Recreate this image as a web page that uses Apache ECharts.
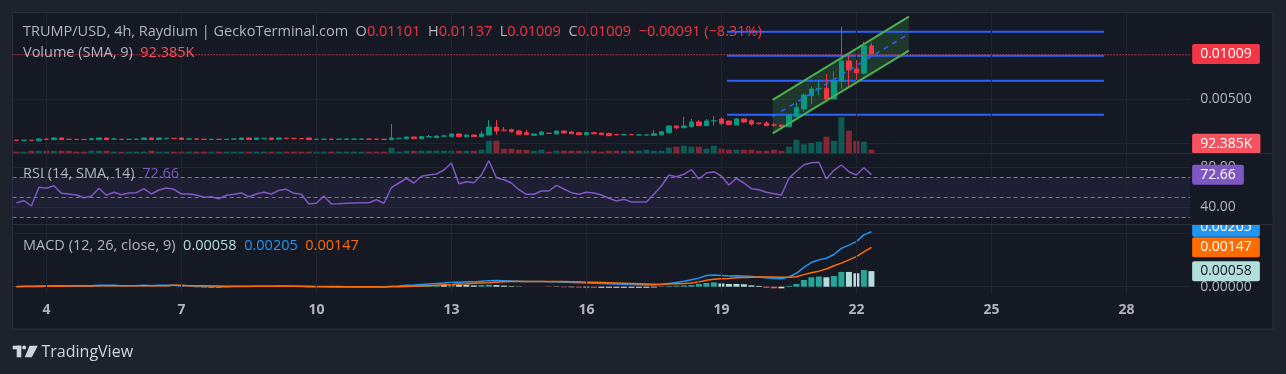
<!DOCTYPE html>
<html><head><meta charset="utf-8">
<script src="https://cdn.jsdelivr.net/npm/echarts@6/dist/echarts.min.js"></script>
<style>html,body{margin:0;padding:0;background:#1e222d;}#c{width:1286px;height:374px;}</style>
</head><body><div id="c"></div><script>
// ---------- data ----------
const TICK_DAYS = ['4','7','10','13','16','19','22','25','28'];
const START_DAY = 3, START_HOUR = 8, N_SLOTS = 157; // 4h bars, chart leaves empty space on the right

const OPEN = [0.00035,0.00032,0.00034,0.00028,0.00046,0.00040,0.00059,0.00045,0.00044,0.00043,
0.00040,0.00041,0.00059,0.00046,0.00045,0.00043,0.00044,0.00042,0.00059,0.00042,
0.00053,0.00055,0.00059,0.00046,0.00048,0.00045,0.00043,0.00045,0.00043,0.00046,
0.00042,0.00059,0.00042,0.00053,0.00059,0.00044,0.00056,0.00055,0.00052,0.00059,
0.00043,0.00044,0.00046,0.00044,0.00045,0.00045,0.00045,0.00047,0.00046,0.00045,
0.00040,0.00054,0.00051,0.00070,0.00051,0.00072,0.00062,0.00079,0.00074,0.00104,
0.00074,0.00093,0.00074,0.00093,0.00183,0.00147,0.00153,0.00138,0.00119,0.00089,
0.00096,0.00113,0.00104,0.00138,0.00127,0.00119,0.00096,0.00119,0.00115,0.00111,
0.00097,0.00095,0.00097,0.00092,0.00092,0.00089,0.00096,0.00119,0.00195,0.00175,
0.00187,0.00240,0.00198,0.00253,0.00274,0.00251,0.00206,0.00274,0.00254,0.00227,
0.00228,0.00207,0.00206,0.00187,0.00300,0.00387,0.00537,0.00617,0.00621,0.00500,
0.00703,0.00930,0.00839,0.00791,0.01101];
const CLOSE = [0.00032,0.00034,0.00031,0.00048,0.00042,0.00059,0.00040,0.00043,0.00042,0.00041,
0.00051,0.00059,0.00041,0.00048,0.00043,0.00045,0.00046,0.00059,0.00042,0.00059,
0.00055,0.00053,0.00042,0.00048,0.00046,0.00043,0.00045,0.00043,0.00045,0.00048,
0.00059,0.00042,0.00059,0.00055,0.00042,0.00059,0.00054,0.00053,0.00050,0.00042,
0.00045,0.00046,0.00044,0.00046,0.00047,0.00047,0.00047,0.00045,0.00044,0.00043,
0.00059,0.00056,0.00070,0.00051,0.00074,0.00074,0.00081,0.00081,0.00104,0.00074,
0.00093,0.00074,0.00104,0.00183,0.00138,0.00145,0.00130,0.00101,0.00096,0.00104,
0.00127,0.00111,0.00138,0.00115,0.00107,0.00096,0.00119,0.00107,0.00096,0.00085,
0.00095,0.00097,0.00095,0.00094,0.00094,0.00107,0.00130,0.00195,0.00175,0.00195,
0.00240,0.00198,0.00251,0.00255,0.00225,0.00209,0.00274,0.00240,0.00217,0.00225,
0.00198,0.00205,0.00187,0.00319,0.00402,0.00545,0.00613,0.00621,0.00500,0.00703,
0.00930,0.00828,0.00797,0.01100,0.01009];
const LOW = [0.00030,0.00031,0.00029,0.00027,0.00040,0.00038,0.00038,0.00041,0.00040,0.00040,
0.00039,0.00040,0.00040,0.00045,0.00042,0.00042,0.00043,0.00041,0.00041,0.00041,
0.00052,0.00052,0.00041,0.00045,0.00045,0.00042,0.00042,0.00042,0.00042,0.00045,
0.00041,0.00041,0.00041,0.00052,0.00041,0.00043,0.00053,0.00052,0.00049,0.00041,
0.00042,0.00043,0.00043,0.00043,0.00044,0.00044,0.00044,0.00044,0.00043,0.00042,
0.00039,0.00053,0.00050,0.00050,0.00050,0.00071,0.00061,0.00078,0.00073,0.00073,
0.00073,0.00073,0.00073,0.00092,0.00096,0.00144,0.00119,0.00099,0.00095,0.00085,
0.00095,0.00110,0.00103,0.00114,0.00106,0.00095,0.00095,0.00106,0.00095,0.00084,
0.00094,0.00094,0.00094,0.00091,0.00091,0.00088,0.00095,0.00118,0.00157,0.00174,
0.00186,0.00196,0.00197,0.00198,0.00206,0.00207,0.00205,0.00228,0.00198,0.00209,
0.00196,0.00187,0.00185,0.00185,0.00298,0.00356,0.00443,0.00545,0.00495,0.00495,
0.00613,0.00639,0.00715,0.00780,0.01009];
const HIGH = [0.00036,0.00036,0.00035,0.00059,0.00055,0.00070,0.00061,0.00046,0.00045,0.00044,
0.00059,0.00060,0.00060,0.00059,0.00046,0.00046,0.00047,0.00060,0.00060,0.00060,
0.00056,0.00056,0.00060,0.00059,0.00055,0.00046,0.00046,0.00046,0.00046,0.00049,
0.00060,0.00060,0.00060,0.00056,0.00060,0.00060,0.00057,0.00056,0.00053,0.00060,
0.00046,0.00047,0.00047,0.00047,0.00048,0.00048,0.00048,0.00048,0.00047,0.00046,
0.00217,0.00058,0.00071,0.00071,0.00081,0.00093,0.00083,0.00096,0.00106,0.00106,
0.00095,0.00095,0.00138,0.00262,0.00262,0.00183,0.00164,0.00153,0.00153,0.00106,
0.00138,0.00115,0.00140,0.00140,0.00138,0.00121,0.00121,0.00130,0.00117,0.00119,
0.00107,0.00107,0.00107,0.00095,0.00095,0.00149,0.00138,0.00197,0.00197,0.00300,
0.00274,0.00262,0.00274,0.00308,0.00293,0.00253,0.00285,0.00282,0.00270,0.00229,
0.00248,0.00225,0.00208,0.00330,0.00458,0.00564,0.00639,0.00703,0.00783,0.00816,
0.01318,0.00998,0.00941,0.01148,0.01137];
const VOLUME = [36400,34800,64400,61200,66800,63000,64400,60500,36400,35100,
64400,62800,64400,36400,33900,36400,35200,37800,64400,36400,
36400,34500,37600,36400,35800,36400,34200,36400,35000,36400,
37200,36400,35600,36400,36400,34900,36400,36400,35300,36400,
36400,35800,36400,37100,36400,36400,34600,36400,36400,35500,
148400,36400,64400,62100,64400,66300,64400,63200,64400,62700,
64400,61800,92400,344400,344400,120400,118300,92400,90600,64400,
92400,36400,64400,63500,64400,62200,64400,63800,36400,64400,
64400,62900,64400,63100,92400,64400,64400,148400,176400,204400,
176400,176400,120400,204400,120400,92400,92400,92400,92400,64400,
64400,92400,64400,176400,372400,243600,280000,316400,456400,344400,
999600,624400,344400,316400,92385];
const RSI = [44.6,46.6,41.3,60,59,61.6,54,53.3,52.3,49.6,
51,59,52,55,52.6,54.3,54.6,58.6,53.3,57.3,
59.3,58,53.3,53.3,52.3,50,50.6,48.6,52,53,
54.3,50.6,53.3,55,53.3,57,58,54,53,43.3,
44,51.3,43.3,43.6,44,44.3,44.6,44.6,47.6,44,
59.6,64.3,69,64.3,71,72.3,73.3,77.3,84.3,63.6,
65.6,64.6,72.3,86.6,69.6,67.6,64.3,57.6,53,53,
56.3,56.3,62,58.3,54.6,53,55,54.3,52.3,49,
46.3,48,45.3,45.3,45.3,53,61.3,72.3,70.6,73,
77.6,68.3,74.3,75.6,71.3,62.3,69,64.3,58.6,57.6,
55,53.6,52.3,69,76,82.6,84.6,85,68.3,77,
82.3,75.6,72.3,79.6,72.66];
const RSI_LEVELS = [70, 50, 30];
const MACD = [0.00001,0.00002,0.00002,0.00003,0.00003,0.00004,0.00004,0.00004,0.00004,0.00004,
0.00004,0.00005,0.00005,0.00005,0.00004,0.00004,0.00004,0.00005,0.00004,0.00005,
0.00005,0.00005,0.00004,0.00004,0.00002,0.00001,0.00001,0,0,0.00001,
0.00001,0.00001,0.00002,0.00002,0.00002,0.00003,0.00003,0.00002,0.00001,0,
0,0,-0.00001,-0.00001,-0.00001,-0.00001,-0.00001,-0.00001,-0.00001,-0.00001,
0.00002,0.00003,0.00005,0.00006,0.00008,0.00010,0.00012,0.00014,0.00017,0.00017,
0.00018,0.00018,0.00020,0.00022,0.00023,0.00022,0.00021,0.00020,0.00019,0.00019,
0.00019,0.00018,0.00018,0.00017,0.00016,0.00015,0.00014,0.00013,0.00012,0.00011,
0.00010,0.00009,0.00008,0.00007,0.00006,0.00006,0.00008,0.00012,0.00016,0.00020,
0.00026,0.00032,0.00042,0.00044,0.00042,0.00040,0.00041,0.00040,0.00038,0.00036,
0.00033,0.00031,0.00030,0.00036,0.00050,0.00072,0.00090,0.00100,0.00106,0.00120,
0.00143,0.00155,0.00168,0.00193,0.00205];
const SIGNAL = [0,0.00001,0.00001,0.00001,0.00002,0.00002,0.00002,0.00003,0.00003,0.00003,
0.00003,0.00004,0.00004,0.00004,0.00004,0.00004,0.00004,0.00004,0.00004,0.00004,
0.00004,0.00005,0.00005,0.00004,0.00004,0.00004,0.00003,0.00003,0.00002,0.00002,
0.00002,0.00002,0.00002,0.00002,0.00002,0.00002,0.00002,0.00002,0.00002,0.00002,
0.00001,0.00001,0.00001,0.00001,0,0,0,0,0,-0.00001,
0,0,0.00001,0.00002,0.00003,0.00004,0.00005,0.00007,0.00008,0.00010,
0.00011,0.00013,0.00014,0.00015,0.00017,0.00018,0.00019,0.00019,0.00019,0.00019,
0.00019,0.00019,0.00019,0.00019,0.00018,0.00018,0.00017,0.00017,0.00016,0.00015,
0.00014,0.00013,0.00012,0.00011,0.00010,0.00009,0.00009,0.00010,0.00011,0.00012,
0.00014,0.00018,0.00024,0.00028,0.00030,0.00031,0.00033,0.00034,0.00035,0.00036,
0.00036,0.00036,0.00035,0.00035,0.00037,0.00045,0.00052,0.00058,0.00066,0.00078,
0.00088,0.00100,0.00112,0.00130,0.00147];
const HIST = [0.00001,0.00001,0.00001,0.00002,0.00001,0.00002,0.00002,0.00001,0.00001,0.00001,
0.00001,0.00001,0.00001,0.00001,0,0,0,0.00001,0,0.00001,
0.00001,0,-0.00001,0,-0.00002,-0.00003,-0.00003,-0.00003,-0.00002,-0.00001,
-0.00001,-0.00001,0,0,0,0.00001,0.00001,0,-0.00001,-0.00002,
-0.00001,-0.00001,-0.00002,-0.00002,-0.00001,-0.00001,-0.00001,-0.00001,-0.00001,0,
0.00002,0.00003,0.00004,0.00004,0.00005,0.00006,0.00007,0.00007,0.00009,0.00007,
0.00007,0.00005,0.00006,0.00007,0.00006,0.00004,0.00002,0.00001,0,0,
0,-0.00001,-0.00001,-0.00002,-0.00002,-0.00003,-0.00003,-0.00004,-0.00004,-0.00004,
-0.00004,-0.00004,-0.00004,-0.00004,-0.00004,-0.00003,-0.00001,0.00003,0.00004,0.00005,
0.00006,0.00010,0.00014,0.00016,0.00012,0.00010,0.00010,0.00009,0.00005,0.00003,
-0.00004,-0.00006,-0.00006,0.00003,0.00010,0.00025,0.00035,0.00038,0.00035,0.00040,
0.00055,0.00055,0.00050,0.00062,0.00058];
// drawings (bar index, price)
const HLINES = [0.01261, 0.00990, 0.00707, 0.00322];
const HLINE_RANGE = [94.75, 145];
const CHANNEL_UPPER = [[100.84, 0.00489], [119.0, 0.01431]];
const CHANNEL_LOWER = [[100.84, 0.00112], [119.0, 0.01046]];
const CHANNEL_MID   = [[100.84, 0.00300], [119.0, 0.01238]];
const VOLUME_LAST_LABEL = '92.385K';
const HEADER_CHANGE = '\u22120.00091 (\u22128.31%)';

// ---------- build ----------
const cats = [];
for (let k = 0; k < N_SLOTS; k++) {
  const t = START_HOUR + 4 * k;
  cats.push((START_DAY + Math.floor(t / 24)) + ' ' + String(t % 24).padStart(2, '0') + ':00');
}
const TICK_CATS = TICK_DAYS.map(d => d + ' 00:00');
const n = CLOSE.length, last = n - 1;

const GREEN = '#089981', RED = '#f23645', GRIDC = '#20242f', TXT = '#b2b5be', CLEAR = 'rgba(0,0,0,0)';
const FONT = '"Open Sans", Roboto, sans-serif';
const L = 12.65, W = 1177.5;
const LEG = 14.5;

const boxLabel = (bg, fg, text, off) => ({
  show: true, position: 'end', distance: 2, formatter: text,
  backgroundColor: bg, color: fg, fontSize: 14, fontFamily: FONT, lineHeight: 14,
  padding: [3, 8, 3, 8], borderRadius: 2, offset: off || [0, 0]
});
const vGrid = (xi, yi) => ({
  type: 'line', xAxisIndex: xi, yAxisIndex: yi, data: [], z: 1, silent: true,
  markLine: { silent: true, symbol: ['none', 'none'], label: { show: false }, precision: 6,
    lineStyle: { color: GRIDC, width: 1, type: 'solid' },
    data: TICK_CATS.map(c => ({ xAxis: c })) }
});
const catAxis = (gi, showLabels) => ({
  type: 'category', gridIndex: gi, data: cats, boundaryGap: true,
  axisLine: { show: false }, axisTick: { show: false }, splitLine: { show: false },
  axisLabel: showLabels ? {
    show: true, interval: (i, v) => TICK_CATS.includes(v), formatter: v => v.split(' ')[0],
    color: TXT, fontSize: 14, fontWeight: 'bold', fontFamily: FONT, margin: 9
  } : { show: false }
});
const valAxisY = (gi, min, max, grid, labels, fmt) => ({
  type: 'value', gridIndex: gi, position: 'right', min: min, max: max, scale: true,
  axisLine: { show: false },
  axisTick: { show: false, customValues: grid },
  axisLabel: { customValues: labels, formatter: fmt, color: TXT, fontSize: 14, fontFamily: FONT, margin: 10 },
  splitLine: { show: true, lineStyle: { color: GRIDC, width: 1 } }
});
const valueTag = (value, bg, fg, text, off) => ({
  silent: true, symbol: ['none', 'none'], z: 20, precision: 8, lineStyle: { color: CLEAR },
  data: [{ yAxis: value, lineStyle: { color: CLEAR }, label: boxLabel(bg, fg, text, off) }]
});

const histColors = HIST.map((h, i) => {
  const p = i > 0 ? HIST[i - 1] : 0;
  return h >= 0 ? (h > p ? '#26a69a' : '#b2dfdb') : (h < p ? '#ff5252' : '#ffcdd2');
});
const rb = fill => ({ fill: fill, fontSize: LEG, fontFamily: FONT });
const legend = (y, text, rich) => ({ type: 'text', z: 60, x: 23, y: y, silent: true,
  style: { text: text, verticalAlign: 'middle', font: LEG + 'px ' + FONT, rich: rich } });

const chart = echarts.init(document.getElementById('c'), null, { renderer: 'canvas' });
const option = {
  animation: false,
  backgroundColor: '#1e222d',
  textStyle: { fontFamily: FONT },
  grid: [
    { left: L, width: W, top: 13, height: 140, outerBoundsMode: 'none' },
    { left: L, width: W, top: 154, height: 70, outerBoundsMode: 'none' },
    { left: L, width: W, top: 225, height: 69, outerBoundsMode: 'none' }
  ],
  xAxis: [
    catAxis(0, false),
    { type: 'value', gridIndex: 0, min: -0.5, max: N_SLOTS - 0.5, show: false },
    catAxis(1, false),
    catAxis(2, true)
  ],
  yAxis: [
    valAxisY(0, -0.001108, 0.014726, [0, 0.005, 0.01], [0.005], v => v.toFixed(5)),
    { type: 'value', gridIndex: 0, min: 0, max: 3920000, show: false, splitLine: { show: false } },
    valAxisY(1, 23.3, 93.3, [40, 80], [40, 80], v => v.toFixed(2)),
    valAxisY(2, -0.000272, 0.0023, [0, 0.002], [0], v => v.toFixed(5))
  ],
  graphic: { elements: [
    { type: 'rect', z: -10, silent: true, shape: { x: 12.5, y: 12.5, width: 1260.5, height: 316.5 },
      style: { fill: '#151924', stroke: '#2a2e39', lineWidth: 1 } },
    // price-scale strip of the RSI pane hides the top of the MACD tag that overflows its pane
    { type: 'rect', z: 55, silent: true, shape: { x: 1190.5, y: 215, width: 82, height: 9.5 }, style: { fill: '#151924' } },
    { type: 'line', z: 56, silent: true, shape: { x1: 12.5, y1: 153.5, x2: 1273, y2: 153.5 }, style: { stroke: '#2a2e39', lineWidth: 1 } },
    { type: 'line', z: 56, silent: true, shape: { x1: 12.5, y1: 224.5, x2: 1273, y2: 224.5 }, style: { stroke: '#2a2e39', lineWidth: 1 } },
    legend(32, '{g|TRUMP/USD, 4h, Raydium | GeckoTerminal.com}  {g|O}{r|' + OPEN[last].toFixed(5) + '}  {g|H}{r|' + HIGH[last].toFixed(5) +
        '}  {g|L}{r|' + LOW[last].toFixed(5) + '}  {g|C}{r|' + CLOSE[last].toFixed(5) + '}  {r|' + HEADER_CHANGE + '}',
      { g: rb(TXT), r: rb(RED) }),
    legend(53, '{g|Volume (SMA, 9)}  {r|' + VOLUME_LAST_LABEL + '}', { g: rb(TXT), r: rb('#f7525f') }),
    legend(174, '{g|RSI (14, SMA, 14)}  {p|' + RSI[last].toFixed(2) + '}', { g: rb(TXT), p: rb('#7e57c2') }),
    legend(246, '{g|MACD (12, 26, close, 9)}  {h|' + HIST[last].toFixed(5) + '}  {m|' + MACD[last].toFixed(5) + '}  {s|' + SIGNAL[last].toFixed(5) + '}',
      { g: rb(TXT), h: rb('#b2dfdb'), m: rb('#2196f3'), s: rb('#ff6d00') }),
    // TradingView logo
    { type: 'rect', silent: true, shape: { x: 12.7, y: 345.7, width: 8.6, height: 3.6 }, style: { fill: '#d1d4dc' } },
    { type: 'rect', silent: true, shape: { x: 16.7, y: 345.7, width: 4.6, height: 11.6 }, style: { fill: '#d1d4dc' } },
    { type: 'circle', silent: true, shape: { cx: 24.2, cy: 347.6, r: 2 }, style: { fill: '#d1d4dc' } },
    { type: 'polygon', silent: true, shape: { points: [[29.5, 345.7], [37.8, 345.7], [31.8, 357.3], [24.8, 357.3]] }, style: { fill: '#d1d4dc' } },
    { type: 'text', x: 41.5, y: 352.5, silent: true, style: { text: 'TradingView', fill: '#d1d4dc', font: '16px ' + FONT, verticalAlign: 'middle' } }
  ] },
  series: [
    vGrid(0, 0), vGrid(2, 2), vGrid(3, 3),
    { type: 'bar', name: 'Volume', xAxisIndex: 0, yAxisIndex: 1, barWidth: 6, z: 2, silent: true,
      data: VOLUME.map((v, i) => ({ value: v, itemStyle: { color: CLOSE[i] >= OPEN[i] ? 'rgba(8,153,129,0.5)' : 'rgba(242,54,69,0.5)' } })),
      markLine: valueTag(VOLUME[last], '#f7525f', '#ffffff', VOLUME_LAST_LABEL, [0, -6]) },
    { type: 'candlestick', name: 'TRUMP/USD', xAxisIndex: 0, yAxisIndex: 0, barWidth: 5, z: 5, silent: true,
      data: OPEN.map((o, i) => [o, CLOSE[i], LOW[i], HIGH[i]]),
      itemStyle: { color: GREEN, color0: RED, borderColor: GREEN, borderColor0: RED, borderWidth: 1 },
      markLine: { silent: true, symbol: ['none', 'none'], z: 6, precision: 8,
        lineStyle: { color: RED, type: [1, 2], width: 1 },
        data: [{ yAxis: CLOSE[last], label: boxLabel(RED, '#ffffff', CLOSE[last].toFixed(5)) }] } },
    { type: 'custom', xAxisIndex: 1, yAxisIndex: 0, z: 3, silent: true, data: [[0, 0]],
      renderItem: (params, api) => ({
        type: 'polygon',
        shape: { points: [api.coord(CHANNEL_UPPER[0]), api.coord(CHANNEL_UPPER[1]), api.coord(CHANNEL_LOWER[1]), api.coord(CHANNEL_LOWER[0])] },
        style: { fill: 'rgba(76,175,80,0.2)' }
      }) },
    ...HLINES.map(p => ({ type: 'line', xAxisIndex: 1, yAxisIndex: 0, z: 4, silent: true, symbol: 'none',
      data: [[HLINE_RANGE[0], p], [HLINE_RANGE[1], p]], lineStyle: { color: '#2962ff', width: 2 } })),
    { type: 'line', xAxisIndex: 1, yAxisIndex: 0, z: 6, silent: true, symbol: 'none', data: CHANNEL_UPPER, lineStyle: { color: '#4caf50', width: 2 } },
    { type: 'line', xAxisIndex: 1, yAxisIndex: 0, z: 6, silent: true, symbol: 'none', data: CHANNEL_LOWER, lineStyle: { color: '#4caf50', width: 2 } },
    { type: 'line', xAxisIndex: 1, yAxisIndex: 0, z: 6, silent: true, symbol: 'none', data: CHANNEL_MID, lineStyle: { color: '#2962ff', width: 1.5, type: [5, 5] } },
    { type: 'line', name: 'RSI', xAxisIndex: 2, yAxisIndex: 2, z: 5, silent: true, symbol: 'none', data: RSI,
      lineStyle: { color: '#7e57c2', width: 1.5 },
      markArea: { silent: true, itemStyle: { color: 'rgba(126,87,194,0.1)' }, data: [[{ yAxis: RSI_LEVELS[2] }, { yAxis: RSI_LEVELS[0] }]] },
      markLine: { silent: true, symbol: ['none', 'none'], z: 20, precision: 4,
        data: RSI_LEVELS.map(v => ({ yAxis: v, label: { show: false }, lineStyle: { color: '#787b86', type: [4, 3], width: 1 } }))
          .concat([{ yAxis: RSI[last], lineStyle: { color: CLEAR }, label: boxLabel('#7e57c2', '#ffffff', RSI[last].toFixed(2)) }]) } },
    { type: 'bar', name: 'Histogram', xAxisIndex: 3, yAxisIndex: 3, barWidth: 6, z: 2, silent: true,
      data: HIST.map((h, i) => ({ value: h, itemStyle: { color: histColors[i] } })),
      markLine: valueTag(HIST[last], '#b2dfdb', '#131722', HIST[last].toFixed(5)) },
    { type: 'line', name: 'MACD', xAxisIndex: 3, yAxisIndex: 3, z: 4, silent: true, symbol: 'none', data: MACD,
      lineStyle: { color: '#2196f3', width: 1.5 },
      markLine: valueTag(MACD[last], '#2196f3', '#ffffff', MACD[last].toFixed(5), [0, -5]) },
    { type: 'line', name: 'Signal', xAxisIndex: 3, yAxisIndex: 3, z: 4, silent: true, symbol: 'none', data: SIGNAL,
      lineStyle: { color: '#ff6d00', width: 1.5 },
      markLine: valueTag(SIGNAL[last], '#ff6d00', '#ffffff', SIGNAL[last].toFixed(5)) }
  ]
};
chart.setOption(option);
</script></body></html>
